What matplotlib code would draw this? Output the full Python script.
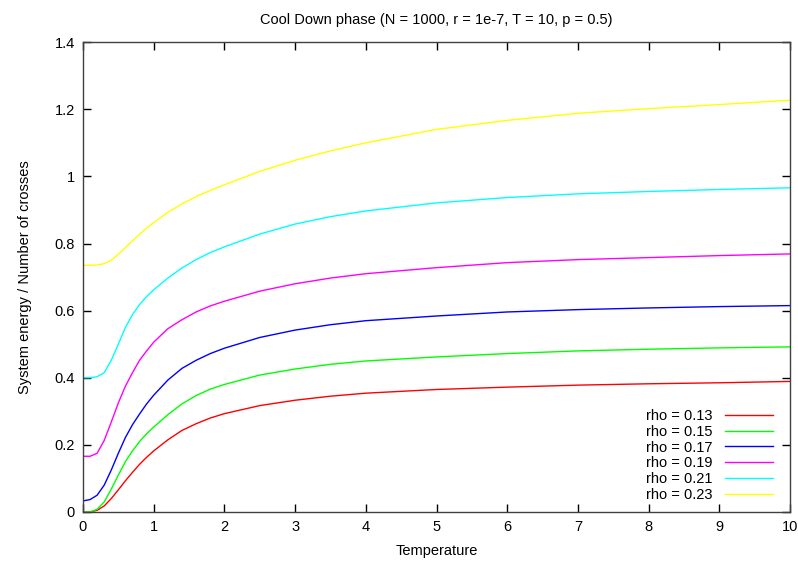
import matplotlib
matplotlib.use('Agg')
import matplotlib.pyplot as plt
from matplotlib.ticker import FuncFormatter

plt.rcParams['font.family'] = ['Liberation Sans', 'DejaVu Sans']

# curves, one per rho value
labels = ['rho = 0.13', 'rho = 0.15', 'rho = 0.17', 'rho = 0.19', 'rho = 0.21', 'rho = 0.23']
colors = ['#ff0000', '#00ff00', '#0000ff', '#ff00ff', '#00ffff', '#ffff00']

temps = [0, 0.1, 0.2, 0.3, 0.4, 0.5, 0.6, 0.7, 0.8, 0.9, 1.0, 1.2, 1.4, 1.6, 1.8,
         2.0, 2.5, 3.0, 3.5, 4, 5, 6, 7, 8, 9, 10]

e_013 = [0, 0, 0.005, 0.018, 0.04, 0.066, 0.093, 0.118, 0.142, 0.163, 0.182, 0.215, 0.243,
         0.263, 0.28, 0.293, 0.317, 0.333, 0.345, 0.354, 0.365, 0.372, 0.378, 0.382, 0.385, 0.389]
e_015 = [0, 0, 0.008, 0.03, 0.068, 0.11, 0.15, 0.182, 0.21, 0.233, 0.253, 0.29, 0.322,
         0.347, 0.366, 0.38, 0.408, 0.426, 0.44, 0.45, 0.462, 0.472, 0.48, 0.485, 0.489, 0.492]
e_017 = [0.033, 0.037, 0.05, 0.08, 0.125, 0.175, 0.222, 0.26, 0.292, 0.322, 0.348, 0.393, 0.428,
         0.452, 0.472, 0.488, 0.52, 0.542, 0.558, 0.57, 0.584, 0.596, 0.603, 0.608, 0.612, 0.615]
e_019 = [0.166, 0.166, 0.175, 0.213, 0.268, 0.325, 0.375, 0.415, 0.452, 0.48, 0.506, 0.546, 0.573,
         0.596, 0.614, 0.628, 0.658, 0.68, 0.697, 0.71, 0.728, 0.743, 0.752, 0.758, 0.764, 0.769]
e_021 = [0.4, 0.4, 0.403, 0.415, 0.452, 0.5, 0.55, 0.588, 0.618, 0.642, 0.662, 0.697, 0.727,
         0.752, 0.773, 0.79, 0.828, 0.858, 0.88, 0.897, 0.921, 0.937, 0.948, 0.955, 0.961, 0.966]
e_023 = [0.735, 0.735, 0.736, 0.74, 0.75, 0.768, 0.788, 0.808, 0.828, 0.846, 0.862, 0.893, 0.918,
         0.94, 0.958, 0.975, 1.015, 1.048, 1.076, 1.1, 1.14, 1.167, 1.188, 1.202, 1.214, 1.227]

energies = [e_013, e_015, e_017, e_019, e_021, e_023]

x_ticks = list(range(0, 11))
y_ticks = [0, 0.2, 0.4, 0.6, 0.8, 1.0, 1.2, 1.4]

fig = plt.figure(figsize=(7.98, 5.62), dpi=100)
ax = fig.add_axes([0.104, 0.089, 0.886, 0.836])

for e, lab, c in zip(energies, labels, colors):
    ax.plot(temps, e, color=c, linewidth=1.0, label=lab)

ax.set_xlim(0, 10)
ax.set_ylim(0, 1.4)
ax.set_xticks(x_ticks)
ax.set_yticks(y_ticks)
ax.yaxis.set_major_formatter(FuncFormatter(lambda v, p: '%g' % round(v, 2)))
ax.tick_params(direction='in', length=6, width=1, top=True, right=True,
               labelsize=10.5, colors='#000000', pad=6)
for s in ax.spines.values():
    s.set_color('#404040')
    s.set_linewidth(1)

ax.set_title('Cool Down phase (N = 1000, r = 1e-7, T = 10, p = 0.5)', fontsize=10.5, pad=13)
ax.set_xlabel('Temperature', fontsize=10.5, labelpad=7)
ax.set_ylabel('System energy / Number of crosses', fontsize=10.5, labelpad=16)

ax.legend(loc='lower right', frameon=False, markerfirst=False, fontsize=10.5,
          handlelength=3.3, labelspacing=0.12, borderaxespad=0.3,
          bbox_to_anchor=(0.99, 0.0))

fig.savefig('out.png', dpi=100)
